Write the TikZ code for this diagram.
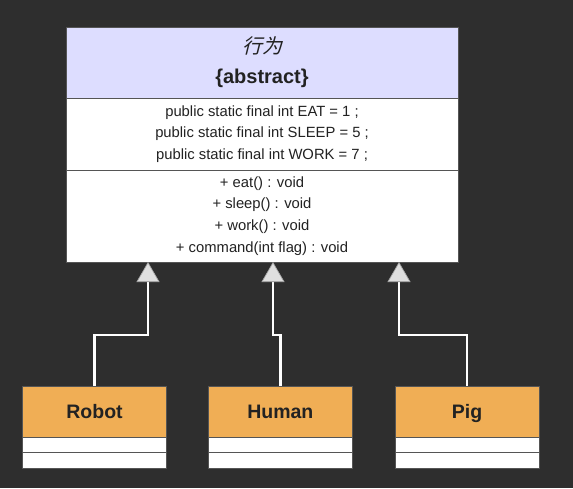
\documentclass[tikz,border=0pt]{standalone}
\usepackage{fontspec}
\setmainfont{Liberation Sans}
\newfontfamily\cjk[FakeSlant=0.25]{Noto Sans CJK SC}
\usetikzlibrary{positioning,arrows.meta}
\definecolor{bgdark}{HTML}{2E2E2E}
\definecolor{headlav}{HTML}{DDDDFF}
\definecolor{subhead}{HTML}{F0AE55}
\definecolor{edgegray}{HTML}{555555}
\definecolor{txtdark}{HTML}{222222}

\begin{document}
\begin{tikzpicture}[
		x=1pt, y=-1pt,
		every node/.style={
			draw=edgegray,
			fill=white,
			align=center,
			outer sep=0pt,
			inner sep=0pt,
			text=txtdark,
			font=\fontsize{14.8}{21.8}\selectfont
		},
		mainpart/.style={minimum width=392pt},
		subpart/.style={minimum width=144pt, minimum height=15.5pt},
		subname/.style={subpart, fill=subhead, minimum height=51pt,
			text height=18pt, text depth=4pt,
			font=\fontsize{19.5}{22}\selectfont\bfseries},
		inherit/.style={draw=white, line width=2.4pt,
			-{Triangle[length=20pt, width=23pt, line width=0.7pt, fill=gray!25, color=gray!70]}}
		]
		
		\fill[bgdark] (0,0) rectangle (573,488);
		
		% abstract class
		\node[mainpart, fill=headlav, minimum height=71pt,
			font=\fontsize{20}{30}\selectfont] (head) at (262,62.5)
		{{\cjk 行为}\\\bfseries\{abstract\}};
		
		\node[mainpart, minimum height=72pt, below=0pt of head] (fields)
		{public static final int EAT = 1 ;\\
			public static final int SLEEP = 5 ;\\
			public static final int WORK = 7 ;};
		
		\node[mainpart, minimum height=92pt, below=0pt of fields] (ops)
		{+ eat() : void\\
			+ sleep() : void\\
			+ work() : void\\
			+ command(int flag) : void};
		
		% subclasses
		\node[subname] (robot) at (94.5,411.5) {Robot};
		\node[subpart, below=0pt of robot] (robotA) {};
		\node[subpart, below=0pt of robotA] (robotB) {};
		
		\node[subname] (human) at (280.3,411.5) {Human};
		\node[subpart, below=0pt of human] (humanA) {};
		\node[subpart, below=0pt of humanA] (humanB) {};
		
		\node[subname] (pig) at (467,411.5) {Pig};
		\node[subpart, below=0pt of pig] (pigA) {};
		\node[subpart, below=0pt of pigA] (pigB) {};
		
		\coordinate (robotjoin) at (148,335);
		\coordinate (humanjoin) at (273,335);
		\coordinate (pigjoin) at (399,335);
		
		\draw[inherit] (robot.north) |- (robotjoin) -- (robotjoin |- ops.south);
		\draw[inherit] (human.north) |- (humanjoin) -- (humanjoin |- ops.south);
		\draw[inherit] (pig.north) |- (pigjoin) -- (pigjoin |- ops.south);
		
	\end{tikzpicture}
\end{document}
